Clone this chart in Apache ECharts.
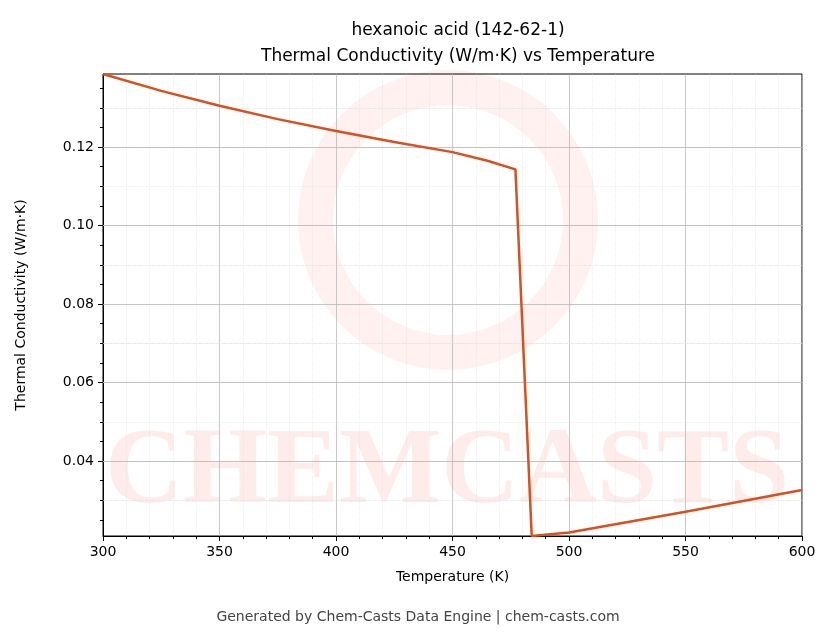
<!DOCTYPE html>
<html><head><meta charset="utf-8">
<script src="https://cdn.jsdelivr.net/npm/echarts@6/dist/echarts.min.js"></script>
<style>html,body{margin:0;padding:0;background:#fff}#c{width:836px;height:644px}</style>
</head><body><div id="c"></div>
<script>
const temps = [300, 325, 350, 375, 400, 425, 450, 465, 477, 484, 500, 550, 600];
const conductivity = [0.1386, 0.1343, 0.1305, 0.1271, 0.1241, 0.1213, 0.1187, 0.1165, 0.1143, 0.0209, 0.0218, 0.0271, 0.0326];
const yTicks = [0.04, 0.06, 0.08, 0.10, 0.12];
const yTickLabels = ['0.04', '0.06', '0.08', '0.10', '0.12'];
const yMinor = [];
for (let v = 0.025; v < 0.1386; v += 0.005) yMinor.push(+v.toFixed(3));

const chart = echarts.init(document.getElementById('c'));
const font = 'DejaVu Sans';
chart.setOption({
  animation: false,
  textStyle: {fontFamily: font},
  title: {text: 'hexanoic acid (142-62-1)\nThermal Conductivity (W/m·K) vs Temperature', left: 453, top: 13, textAlign: 'center',
    textStyle: {fontSize: 17, fontWeight: 'normal', color: '#000', lineHeight: 26, fontFamily: font}},
  graphic: [
    {type: 'text', left: 'center', top: 610, style: {text: 'Generated by Chem-Casts Data Engine | chem-casts.com', fill: '#444', font: '14px DejaVu Sans'}},
    {type: 'text', left: 105, top: 420, z: -1, style: {text: 'CHEMCASTS', fill: 'rgba(250,200,195,0.35)', font: 'bold 108px Liberation Sans Narrow'}},
    {type: 'ring', shape: {cx: 448, cy: 220, r: 150, r0: 115}, style: {fill: 'rgba(250,200,195,0.25)'}, z: -1}
  ],
  grid: {left: 103, right: 34, top: 74, bottom: 108, show: true, borderColor: '#000', borderWidth: 1},
  xAxis: {type: 'value', min: 300, max: 600, interval: 50, name: 'Temperature (K)', nameLocation: 'middle', nameGap: 34,
    nameTextStyle: {fontSize: 14, color: '#000'},
    axisLine: {lineStyle: {color: '#000'}}, axisTick: {length: 5, lineStyle: {color: '#000'}},
    minorTick: {show: true, splitNumber: 5, length: 3, lineStyle: {color: '#000'}},
    axisLabel: {fontSize: 14, color: '#000', margin: 9},
    splitLine: {lineStyle: {color: '#b0b0b0', width: 0.7}},
    minorSplitLine: {show: true, lineStyle: {color: '#e0e0e0', width: 0.6, type: 'dotted'}}},
  yAxis: [
    {type: 'value', min: 0.0209, max: 0.1386, name: 'Thermal Conductivity (W/m·K)', nameLocation: 'middle', nameGap: 75,
      nameTextStyle: {fontSize: 14, color: '#000'},
      axisLine: {show: true, lineStyle: {color: '#000'}},
      axisTick: {show: true, length: 5, customValues: yTicks, lineStyle: {color: '#000'}},
      axisLabel: {fontSize: 14, color: '#000', margin: 9, customValues: yTicks, formatter: v => yTickLabels[yTicks.findIndex(t => Math.abs(t - v) < 1e-6)] || ''},
      splitLine: {show: false}},
    {type: 'value', min: 0.0209, max: 0.1386, position: 'left', axisLine: {show: false},
      axisTick: {show: true, length: 3, customValues: yMinor, lineStyle: {color: '#000'}},
      axisLabel: {show: false}, splitLine: {show: false}}
  ],
  series: [
    {type: 'line', data: yMinor.map(v => [300, v]), symbol: 'none', lineStyle: {opacity: 0}, silent: true,
      markLine: {silent: true, symbol: 'none', label: {show: false}, lineStyle: {color: '#e0e0e0', width: 0.6, type: 'dotted'},
        data: yMinor.map(v => ({yAxis: v}))}},
    {type: 'line', data: yTicks.map(v => [300, v]), symbol: 'none', lineStyle: {opacity: 0}, silent: true,
      markLine: {silent: true, symbol: 'none', label: {show: false}, lineStyle: {color: '#b0b0b0', width: 0.7, type: 'solid'},
        data: yTicks.map(v => ({yAxis: v}))}},
    {type: 'line', data: temps.map((t, i) => [t, conductivity[i]]), symbol: 'none', smooth: false,
      lineStyle: {color: '#d9501e', width: 2.5}, z: 5}
  ]
});
</script></body></html>
